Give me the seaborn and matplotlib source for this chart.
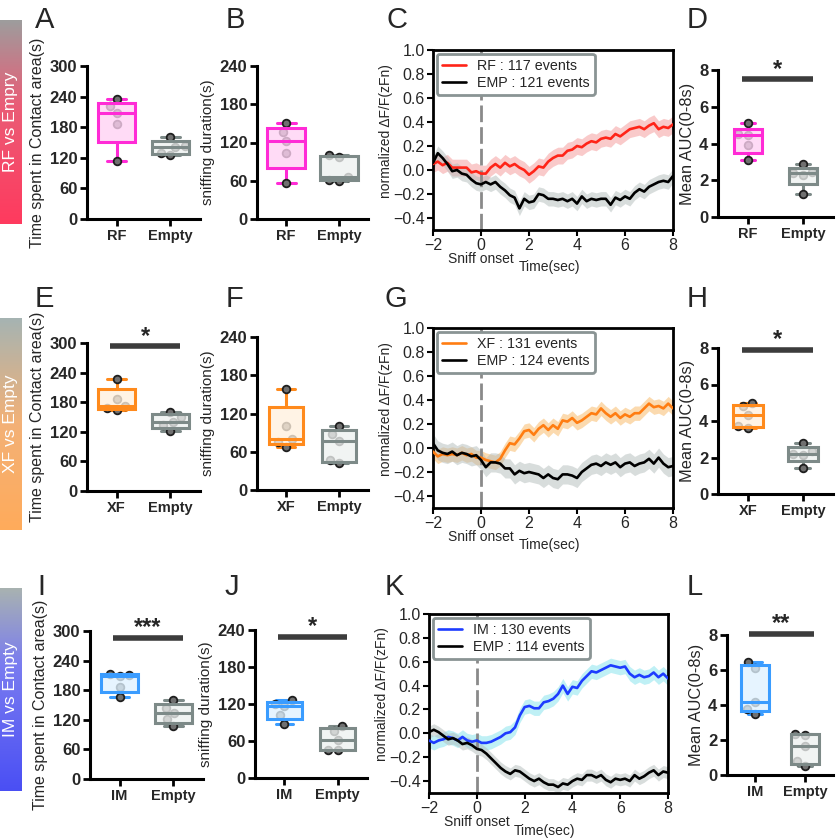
import numpy as np
import pandas as pd
import matplotlib
matplotlib.use("Agg")
import matplotlib.pyplot as plt
import matplotlib.cbook as cbook
from matplotlib.colors import LinearSegmentedColormap, to_rgba
import seaborn as sns

# ---------------- data ----------------
# Box panels (5 animals per group)
A_RF = [114, 187, 207, 221, 235]
A_EMPTY = [125, 129, 141, 144, 160]
B_RF = [57, 104, 122, 136, 151]
B_EMPTY = [60, 61, 66, 98, 100]
D_RF = [3.09, 3.90, 4.45, 4.50, 5.13]
D_EMPTY = [1.24, 2.30, 2.40, 2.45, 2.91]

E_XF = [164, 168, 173, 186, 228]
E_EMPTY = [121, 134, 140, 150, 161]
F_XF = [68, 76, 80, 101, 158]
F_EMPTY = [42, 47, 77, 88, 100]
H_XF = [3.62, 3.72, 4.35, 4.80, 5.00]
H_EMPTY = [1.42, 2.15, 2.20, 2.35, 2.79]

I_IM = [167, 187, 209, 211, 213]
I_EMPTY = [107, 121, 133, 143, 160]
J_IM = [88, 102, 117, 120, 126]
J_EMPTY = [45, 46, 62, 76, 85]
L_IM = [3.49, 3.80, 4.20, 6.10, 6.48]
L_EMPTY = [0.51, 0.80, 1.65, 2.30, 2.36]

# Photometry traces, sampled every 0.2 s from -2 to 8 s
TIME = np.linspace(-2, 8, 51)
C_RF = [0.05, 0.07, 0.04, 0.06, 0.02, 0.02, 0.02, 0.02, -0.02, -0.01,
        -0.03, -0.03, 0.02, 0.05, 0.02, 0.06, 0.03, 0.05, 0.02, 0.00,
        -0.04, -0.01, 0.03, 0.02, 0.07, 0.10, 0.12, 0.12, 0.16, 0.17,
        0.20, 0.19, 0.22, 0.24, 0.23, 0.26, 0.27, 0.26, 0.30, 0.28,
        0.31, 0.34, 0.35, 0.36, 0.34, 0.37, 0.39, 0.34, 0.36, 0.35, 0.38]
C_EMP = [0.06, 0.14, 0.10, 0.05, -0.01, 0.00, -0.03, -0.04, -0.08, -0.11,
         -0.12, -0.10, -0.12, -0.10, -0.14, -0.17, -0.21, -0.23, -0.32, -0.24,
         -0.27, -0.26, -0.20, -0.21, -0.24, -0.24, -0.25, -0.24, -0.26, -0.24,
         -0.28, -0.22, -0.26, -0.24, -0.25, -0.24, -0.24, -0.29, -0.23, -0.25,
         -0.22, -0.24, -0.19, -0.16, -0.18, -0.14, -0.12, -0.10, -0.09, -0.10, -0.05]
G_XF = [-0.03, -0.07, -0.05, -0.06, -0.05, -0.06, -0.04, -0.06, -0.05, -0.08,
        -0.08, -0.10, -0.11, -0.12, -0.09, -0.02, 0.04, 0.03, 0.08, 0.14,
        0.15, 0.11, 0.16, 0.19, 0.15, 0.19, 0.16, 0.23, 0.22, 0.25,
        0.21, 0.23, 0.26, 0.29, 0.28, 0.33, 0.29, 0.26, 0.29, 0.25,
        0.28, 0.26, 0.29, 0.29, 0.33, 0.37, 0.34, 0.35, 0.33, 0.37, 0.33]
G_EMP = [0.04, -0.02, -0.04, -0.05, -0.03, -0.06, -0.04, -0.05, -0.07, -0.06,
         -0.10, -0.16, -0.12, -0.12, -0.13, -0.17, -0.17, -0.22, -0.19, -0.21,
         -0.20, -0.21, -0.22, -0.25, -0.22, -0.25, -0.26, -0.22, -0.22, -0.23,
         -0.25, -0.20, -0.17, -0.14, -0.13, -0.15, -0.12, -0.14, -0.12, -0.16,
         -0.13, -0.12, -0.15, -0.13, -0.12, -0.09, -0.13, -0.08, -0.13, -0.16, -0.15]
K_IM = [-0.06, -0.08, -0.06, -0.05, -0.03, -0.04, -0.06, -0.03, -0.06, -0.07,
        -0.06, -0.08, -0.08, -0.07, -0.05, -0.03, 0.00, 0.01, 0.05, 0.15,
        0.22, 0.23, 0.21, 0.21, 0.26, 0.27, 0.29, 0.33, 0.40, 0.33,
        0.39, 0.38, 0.44, 0.48, 0.52, 0.51, 0.53, 0.55, 0.57, 0.56,
        0.55, 0.56, 0.50, 0.47, 0.49, 0.47, 0.48, 0.51, 0.47, 0.50, 0.46]
K_EMP = [0.01, 0.03, 0.01, -0.02, -0.05, -0.04, -0.06, -0.09, -0.08, -0.10,
         -0.13, -0.14, -0.17, -0.21, -0.25, -0.29, -0.32, -0.34, -0.31, -0.32,
         -0.35, -0.38, -0.40, -0.38, -0.41, -0.43, -0.43, -0.45, -0.42, -0.43,
         -0.40, -0.38, -0.39, -0.35, -0.35, -0.37, -0.35, -0.39, -0.41, -0.38,
         -0.39, -0.38, -0.40, -0.35, -0.38, -0.36, -0.33, -0.31, -0.35, -0.32, -0.33]
# SEM half-widths of the shaded bands
C_RF_SEM, C_EMP_SEM = 0.07, 0.06
G_XF_SEM, G_EMP_SEM = 0.06, 0.08
K_IM_SEM, K_EMP_SEM = 0.06, 0.05

LEGEND_C = ["RF : 117 events", "EMP : 121 events"]
LEGEND_G = ["XF : 131 events", "EMP : 124 events"]
LEGEND_K = ["IM : 130 events", "EMP : 114 events"]

ROW_TITLES = ["RF vs Empry", "XF vs Empty", "IM vs Empty"]
STARS = {"D": "*", "E": "*", "H": "*", "I": "***", "J": "*", "L": "**"}

# ---------------- style ----------------
sns.set_theme(style="ticks")
plt.rcParams["font.family"] = ["Liberation Sans", "DejaVu Sans"]
plt.rcParams["axes.unicode_minus"] = True

# GraphPad-style quartiles (n+1 method) and min/max whiskers
_orig_stats = cbook.boxplot_stats


def _graphpad_stats(X, whis=1.5, bootstrap=None, labels=None, autorange=False):
    stats = _orig_stats(X, whis=whis, bootstrap=bootstrap, labels=labels, autorange=autorange)
    for st, x in zip(stats, X):
        arr = np.asarray(x, dtype=float)
        arr = arr[np.isfinite(arr)]
        q1, med, q3 = np.percentile(arr, [25, 50, 75], method="weibull")
        st["q1"], st["med"], st["q3"] = q1, med, q3
        st["whislo"], st["whishi"] = arr.min(), arr.max()
    return stats


cbook.boxplot_stats = _graphpad_stats

FW, FH = 836, 839
fig = plt.figure(figsize=(FW / 100, FH / 100), dpi=100)


def px_axes(l, t, r, b):
    return fig.add_axes([l / FW, 1 - b / FH, (r - l) / FW, (b - t) / FH])


COL = {
    "RF": ("#ff2bd6", "#ffd2f4"),
    "XF": ("#ff8a1c", "#fff0de"),
    "IM": ("#3a9cff", "#dff2ff"),
    "Empty": ("#7d8a88", "#eef1f0"),
}


def box_panel(ax, cats, groups, ylim, yticks, ylabel, ylabel_size, width, sig=None, sig_y=None):
    df = pd.DataFrame({
        "group": np.repeat(cats, [len(g) for g in groups]),
        "value": np.concatenate([np.asarray(g, float) for g in groups]),
    })
    for cat in cats:
        ec, fc = COL[cat]
        sub = df[df["group"] == cat]
        sns.boxplot(data=sub, x="group", y="value", order=cats, ax=ax, width=width,
                    whis=(0, 100), showfliers=False, fill=True, linewidth=2.2,
                    linecolor=ec, saturation=1,
                    boxprops=dict(facecolor=to_rgba(fc, 0.78), edgecolor=ec, zorder=4),
                    whiskerprops=dict(color=ec, zorder=3),
                    capprops=dict(color=ec, zorder=3),
                    medianprops=dict(color=ec, zorder=5))
    sns.swarmplot(data=df, x="group", y="value", order=cats, ax=ax, color="#707070",
                  edgecolor="#1e1e1e", linewidth=1.3, size=5.5, zorder=3.5)
    ax.set_xlim(-0.55, 1.55)
    ax.set_ylim(*ylim)
    ax.set_yticks(yticks)
    ax.set_xticks([0, 1])
    ax.set_xticklabels(cats)
    sns.despine(ax=ax)
    for s in ("left", "bottom"):
        ax.spines[s].set_linewidth(2.2)
        ax.spines[s].set_color("black")
    ax.tick_params(width=2, length=5, color="black", pad=2)
    ax.tick_params(axis="y", labelsize=12)
    ax.tick_params(axis="x", labelsize=10.5)
    for lab in ax.get_xticklabels() + ax.get_yticklabels():
        lab.set_fontweight("bold")
    ax.set_xlabel("")
    ax.set_ylabel(ylabel, fontsize=ylabel_size, labelpad=3)
    if sig:
        ax.plot([-0.12, 1.18], [sig_y, sig_y], color="#3c3c3c", lw=4,
                solid_capstyle="butt", clip_on=False, zorder=6)
        ax.annotate(sig, xy=(0.53, sig_y), xytext=(0, -1), textcoords="offset points",
                    ha="center", va="bottom", fontsize=17, fontweight="bold",
                    annotation_clip=False)


def trace_panel(ax, series, labels):
    for (vals, sem, col, band, alpha), lab in zip(series, labels):
        v = np.asarray(vals)
        ax.fill_between(TIME, v - sem, v + sem, color=band, lw=0, alpha=alpha, zorder=1)
    ax.axvline(0, color="#8a8a8a", lw=2, ls=(0, (6, 1.8)), zorder=2.5)
    for (vals, sem, col, band, alpha), lab in zip(series, labels):
        sns.lineplot(x=TIME, y=vals, color=col, lw=1.9, ax=ax, label=lab, zorder=3)
    ax.set_xlim(-2, 8)
    ax.set_ylim(-0.5, 1.0)
    ax.set_xticks([-2, 0, 2, 4, 6, 8])
    ax.set_yticks([-0.4, -0.2, 0.0, 0.2, 0.4, 0.6, 0.8, 1.0])
    ax.set_yticklabels(["\u22120.4", "\u22120.2", "0.0", "0.2", "0.4", "0.6", "0.8", "1.0"])
    ax.set_xticklabels(["\u22122", "0", "2", "4", "6", "8"])
    for s in ax.spines.values():
        s.set_linewidth(2)
        s.set_color("black")
    ax.tick_params(width=1.5, length=4, labelsize=11.5, color="black", pad=2)
    ax.set_xlabel("")
    ax.set_ylabel("normalized \u0394F/F(zFn)", fontsize=10)
    ax.yaxis.set_label_coords(-0.168, 0.55)
    leg = ax.legend(loc="upper left", fontsize=10.3, frameon=True, framealpha=1,
                    edgecolor="#8a9494", facecolor="white", handlelength=1.7,
                    handletextpad=0.8, labelspacing=0.25, borderpad=0.35,
                    borderaxespad=0.25, fancybox=True)
    leg.get_frame().set_linewidth(2)
    leg.set_zorder(10)
    ax.annotate("Sniff onset", xy=(0, 0), xycoords=("data", "axes fraction"),
                xytext=(0, -21), textcoords="offset points", ha="center", va="center",
                fontsize=10, annotation_clip=False)
    ax.annotate("Time(sec)", xy=(2.85, 0), xycoords=("data", "axes fraction"),
                xytext=(0, -27), textcoords="offset points", ha="center", va="center",
                fontsize=10, annotation_clip=False)


def strip(t, b, colors, label):
    ax = px_axes(0, t, 22, b)
    cmap = LinearSegmentedColormap.from_list("g", colors)
    ax.imshow(np.linspace(0, 1, 256)[:, None], aspect="auto", cmap=cmap,
              extent=[0, 1, 0, 1], origin="upper")
    ax.set_axis_off()
    ax.text(0.5, 0.5, label, rotation=90, color="white", ha="center", va="center",
            fontsize=12.5, transform=ax.transAxes)


# ---------------- row strips ----------------
strip(20, 224, [(0, "#9d9d9d"), (0.42, "#ea5c76"), (1, "#ff3a5e")], ROW_TITLES[0])
strip(318, 530, [(0, "#a5b4b3"), (0.5, "#f3b177"), (1, "#ffab5b")], ROW_TITLES[1])
strip(588, 791, [(0, "#a9b3b0"), (0.38, "#7a7cf0"), (1, "#4a4ff4")], ROW_TITLES[2])

TS_LABEL = "Time spent in Contact area(s)"
SN_LABEL = "sniffing duration(s)"
AUC_LABEL = "Mean AUC(0-8s)"

# Row 1
box_panel(px_axes(87, 66, 200, 219), ["RF", "Empty"], [A_RF, A_EMPTY], (0, 300),
          [0, 60, 120, 180, 240, 300], TS_LABEL, 11.5, 0.7)
box_panel(px_axes(257, 66, 368, 219), ["RF", "Empty"], [B_RF, B_EMPTY], (0, 240),
          [0, 60, 120, 180, 240], SN_LABEL, 11, 0.72)
trace_panel(px_axes(433, 50, 673, 230),
            [(C_RF, C_RF_SEM, "#ff2418", "#f38b8b", 0.45),
             (C_EMP, C_EMP_SEM, "black", "#b3bcbb", 0.5)], LEGEND_C)
box_panel(px_axes(718, 70, 833, 217), ["RF", "Empty"], [D_RF, D_EMPTY], (0, 8),
          [0, 2, 4, 6, 8], AUC_LABEL, 11.8, 0.5, STARS["D"], 7.5)

# Row 2
box_panel(px_axes(87, 343, 200, 491), ["XF", "Empty"], [E_XF, E_EMPTY], (0, 300),
          [0, 60, 120, 180, 240, 300], TS_LABEL, 11.5, 0.7, STARS["E"], 293)
box_panel(px_axes(257, 337, 368, 490), ["XF", "Empty"], [F_XF, F_EMPTY], (0, 240),
          [0, 60, 120, 180, 240], SN_LABEL, 11, 0.65)
trace_panel(px_axes(433, 328, 673, 508),
            [(G_XF, G_XF_SEM, "#ff7d12", "#f9bd6e", 0.55),
             (G_EMP, G_EMP_SEM, "black", "#b3bcbb", 0.5)], LEGEND_G)
box_panel(px_axes(718, 348, 833, 494), ["XF", "Empty"], [H_XF, H_EMPTY], (0, 8),
          [0, 2, 4, 6, 8], AUC_LABEL, 11.8, 0.55, STARS["H"], 7.9)

# Row 3
box_panel(px_axes(90, 631, 203, 779), ["IM", "Empty"], [I_IM, I_EMPTY], (0, 300),
          [0, 60, 120, 180, 240, 300], TS_LABEL, 11.5, 0.7, STARS["I"], 286)
box_panel(px_axes(255, 630, 367, 778), ["IM", "Empty"], [J_IM, J_EMPTY], (0, 240),
          [0, 60, 120, 180, 240], SN_LABEL, 11, 0.65, STARS["J"], 229)
trace_panel(px_axes(429, 614, 668, 793),
            [(K_IM, K_IM_SEM, "#1d3cff", "#a4eaf2", 0.7),
             (K_EMP, K_EMP_SEM, "black", "#b3bcbb", 0.5)], LEGEND_K)
box_panel(px_axes(727, 635, 833, 775), ["IM", "Empty"], [L_IM, L_EMPTY], (0, 8),
          [0, 2, 4, 6, 8], AUC_LABEL, 11.8, 0.55, STARS["L"], 8.05)

# Panel letters
LETTERS = [("A", 35, 28), ("B", 226, 28), ("C", 386, 28), ("D", 687, 28),
           ("E", 35, 307), ("F", 226, 307), ("G", 385, 307), ("H", 687, 307),
           ("I", 37, 595), ("J", 225, 595), ("K", 385, 595), ("L", 687, 595)]
for let, x, y in LETTERS:
    fig.text(x / FW, 1 - y / FH, let, fontsize=21, ha="left", va="baseline")

fig.savefig("out.png", dpi=100)
